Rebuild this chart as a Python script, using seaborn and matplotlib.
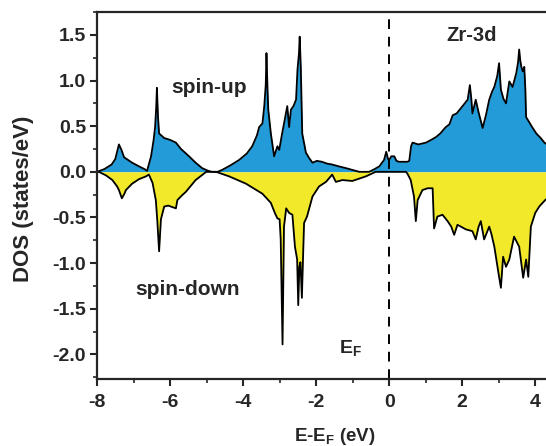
import numpy as np
import pandas as pd
import matplotlib
matplotlib.use("Agg")
import matplotlib.pyplot as plt
import seaborn as sns
from matplotlib.ticker import MultipleLocator

# ---- data ----
e_up = [-8.0, -7.8, -7.6, -7.5, -7.45, -7.40, -7.33, -7.26, -7.15, -7.04, -6.85, -6.70, -6.63,
        -6.52, -6.45, -6.41, -6.38, -6.36, -6.33, -6.30, -6.16, -6.0, -5.84, -5.7, -5.48, -5.3,
        -5.12, -4.95, -4.85, -4.7, -4.58, -4.35, -4.11, -3.9, -3.75, -3.62, -3.56, -3.47, -3.42,
        -3.38, -3.36, -3.33, -3.31, -3.24, -3.18, -3.15, -3.06, -3.01, -2.94, -2.88, -2.79, -2.74,
        -2.69, -2.62, -2.55, -2.51, -2.47, -2.45, -2.42, -2.38, -2.28, -2.19, -2.10, -1.98, -1.84,
        -1.70, -1.56, -1.38, -1.18, -1.0, -0.82, -0.55, -0.40, -0.27, -0.14, -0.08, -0.03, 0.0,
        0.06, 0.14, 0.2, 0.27, 0.50, 0.55, 0.60, 0.64, 0.8, 1.01, 1.15, 1.28, 1.40, 1.55, 1.65,
        1.74, 1.85, 2.01, 2.15, 2.21, 2.25, 2.28, 2.33, 2.37, 2.45, 2.56, 2.65, 2.74, 2.82, 2.88,
        2.96, 3.01, 3.06, 3.13, 3.20, 3.29, 3.38, 3.48, 3.53, 3.56, 3.59, 3.62, 3.66, 3.70, 3.73,
        3.75, 3.9, 4.03, 4.15, 4.25, 4.4]
dos_up = [0.0, 0.03, 0.08, 0.14, 0.22, 0.30, 0.24, 0.16, 0.13, 0.10, 0.06, 0.03, 0.01,
          0.17, 0.35, 0.49, 0.70, 0.92, 0.60, 0.42, 0.37, 0.35, 0.32, 0.25, 0.17, 0.10,
          0.04, 0.01, 0.0, 0.0, 0.02, 0.07, 0.13, 0.20, 0.28, 0.40, 0.49, 0.53, 0.72,
          0.95, 1.30, 0.90, 0.68, 0.42, 0.25, 0.17, 0.28, 0.24, 0.40, 0.53, 0.72, 0.49,
          0.68, 0.72, 0.79, 1.12, 1.30, 1.48, 1.15, 0.42, 0.21, 0.15, 0.10, 0.12, 0.11,
          0.09, 0.08, 0.06, 0.04, 0.02, 0.0, 0.0, 0.03, 0.06, 0.13, 0.22, 0.14, 0.13,
          0.17, 0.17, 0.12, 0.11, 0.11, 0.12, 0.28, 0.32, 0.30, 0.32, 0.35, 0.38, 0.42, 0.49, 0.52,
          0.62, 0.64, 0.72, 0.79, 0.95, 0.80, 0.64, 0.72, 0.79, 0.65, 0.48, 0.62, 0.79, 0.88, 0.93,
          1.05, 1.19, 0.90, 0.80, 0.75, 0.99, 0.93, 1.08, 1.20, 1.34, 1.22, 1.15, 1.10, 1.15, 0.90,
          0.60, 0.50, 0.42, 0.37, 0.32, 0.28]

e_dn = [-8.0, -7.95, -7.75, -7.58, -7.45, -7.40, -7.32, -7.25, -7.21, -7.04, -6.85, -6.66, -6.58,
        -6.48, -6.39, -6.35, -6.30, -6.25, -6.16, -6.05, -5.98, -5.84, -5.80, -5.68, -5.57, -5.30,
        -5.01, -4.74, -4.38, -3.92, -3.47, -3.24, -3.12, -3.06, -3.00, -2.97, -2.92, -2.88, -2.82,
        -2.74, -2.65, -2.58, -2.52, -2.49, -2.46, -2.43, -2.39, -2.36, -2.33, -2.25, -2.10, -1.92,
        -1.73, -1.56, -1.46, -1.28, -1.01, -0.64, -0.37, 0.46, 0.50, 0.59, 0.68, 0.73, 0.78, 0.91,
        1.05, 1.19, 1.23, 1.32, 1.46, 1.60, 1.70, 1.78, 1.87, 2.10, 2.28, 2.37, 2.45, 2.51, 2.60,
        2.74, 2.80, 2.88, 3.01, 3.06, 3.12, 3.20, 3.29, 3.42, 3.56, 3.67, 3.75, 3.81, 3.88, 4.0,
        4.11, 4.27, 4.4]
dos_dn = [0.0, 0.0, -0.04, -0.09, -0.16, -0.20, -0.29, -0.24, -0.20, -0.13, -0.08, -0.05, -0.03,
          -0.12, -0.31, -0.53, -0.87, -0.52, -0.38, -0.37, -0.38, -0.40, -0.31, -0.26, -0.22, -0.09,
          0.0, 0.0, -0.05, -0.13, -0.24, -0.34, -0.46, -0.51, -0.52, -0.74, -1.89, -0.60, -0.40,
          -0.45, -0.47, -0.82, -0.96, -1.46, -1.04, -0.99, -1.38, -0.96, -0.56, -0.49, -0.27, -0.16,
          -0.11, -0.03, -0.11, -0.09, -0.10, -0.05, 0.0, 0.0, -0.02, -0.09, -0.27, -0.54, -0.31, -0.20,
          -0.18, -0.18, -0.62, -0.49, -0.47, -0.54, -0.60, -0.69, -0.58, -0.63, -0.65, -0.74, -0.60, -0.54, -0.74,
          -0.60, -0.68, -0.82, -1.15, -1.27, -0.93, -1.04, -0.96, -0.71, -0.82, -1.16, -0.96, -1.15, -0.60, -0.45,
          -0.38, -0.31, -0.27]

x_ticks = [-8, -6, -4, -2, 0, 2, 4]
y_ticks = [-2.0, -1.5, -1.0, -0.5, 0.0, 0.5, 1.0, 1.5]

# ---- style ----
sns.set_style("ticks")
plt.rcParams['font.family'] = ['Liberation Sans', 'DejaVu Sans']
plt.rcParams['font.weight'] = 'bold'
plt.rcParams['mathtext.fontset'] = 'custom'
plt.rcParams['mathtext.rm'] = 'Liberation Sans:bold'
plt.rcParams['mathtext.bf'] = 'Liberation Sans:bold'
plt.rcParams['mathtext.it'] = 'Liberation Sans:bold'

blue = '#239bd8'
yellow = '#f1e92a'

fig = plt.figure(figsize=(5.46, 4.46), dpi=100)
ax = fig.add_axes([0.1777, 0.150, 0.83, 0.823])

df_up = pd.DataFrame({'E': e_up, 'DOS': dos_up})
df_dn = pd.DataFrame({'E': e_dn, 'DOS': dos_dn})

ax.fill_between(df_up['E'], 0, df_up['DOS'], color=blue, linewidth=0)
ax.fill_between(df_dn['E'], 0, df_dn['DOS'], color=yellow, linewidth=0)
sns.lineplot(data=df_up, x='E', y='DOS', ax=ax, color='black', linewidth=1.3, sort=False)
sns.lineplot(data=df_dn, x='E', y='DOS', ax=ax, color='black', linewidth=1.3, sort=False)

ax.axvline(0, color='black', linestyle=(0, (5, 4)), linewidth=1.4)

ax.set_xlim(-8, 4.41)
ax.set_ylim(-2.27, 1.75)
ax.set_xticks(x_ticks)
ax.set_yticks(y_ticks)
ax.set_xticklabels([str(t) for t in x_ticks])
ax.set_yticklabels([f"{t:.1f}" for t in y_ticks])
ax.xaxis.set_minor_locator(MultipleLocator(1))
ax.yaxis.set_minor_locator(MultipleLocator(0.25))
ax.tick_params(axis='both', which='major', direction='out', length=5, width=1.5,
               labelsize=14)
ax.tick_params(axis='x', which='major', pad=6)
ax.tick_params(axis='y', which='major', pad=3)
ax.tick_params(axis='both', which='minor', direction='out', length=3, width=1.2)
for lab in ax.get_xticklabels() + ax.get_yticklabels():
    lab.set_fontweight('bold')
for sp in ax.spines.values():
    sp.set_linewidth(1.6)
    sp.set_visible(True)

ax.set_xlabel('E-E$_\\mathrm{F}$ (eV)', fontsize=13.5, fontweight='bold')
ax.xaxis.set_label_coords(0.525, -0.128)
ax.set_ylabel('DOS (states/eV)', fontsize=16, fontweight='bold')
ax.yaxis.set_label_coords(-0.138, 0.49)

ax.text(-4.93, 0.92, 'spin-up', fontsize=15, fontweight='bold', ha='center', va='center')
ax.text(-5.53, -1.29, 'spin-down', fontsize=15, fontweight='bold', ha='center', va='center')
ax.text(2.27, 1.49, 'Zr-3d', fontsize=14.5, fontweight='bold', ha='center', va='center')
ax.text(-1.05, -1.93, 'E$_\\mathrm{F}$', fontsize=14, fontweight='bold', ha='center', va='center')

fig.savefig('out.png', dpi=100)
